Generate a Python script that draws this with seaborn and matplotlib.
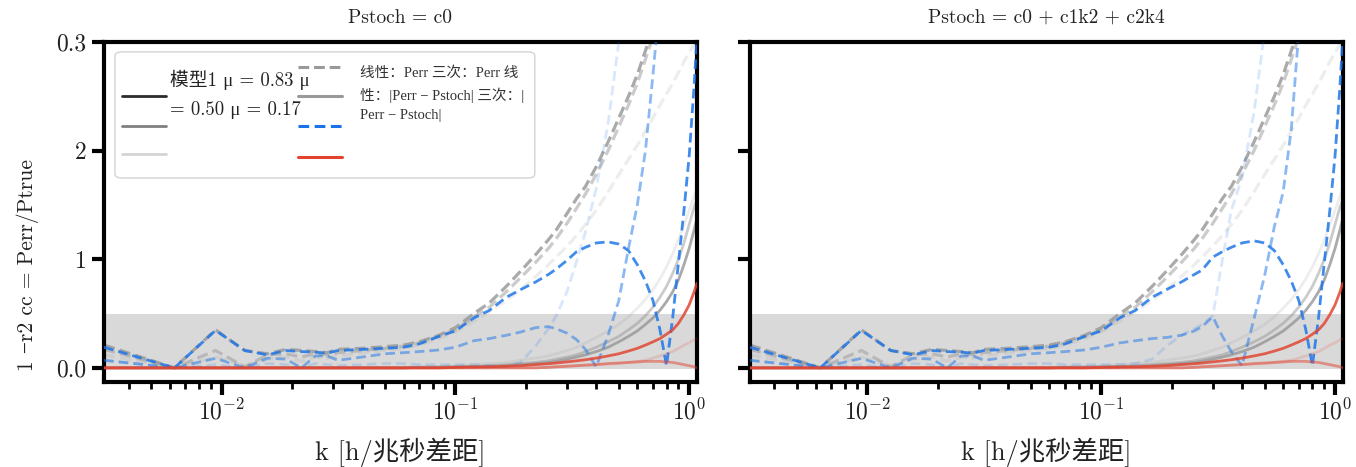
import matplotlib
matplotlib.use("Agg")
import matplotlib.pyplot as plt
import seaborn as sns
from matplotlib.lines import Line2D
from matplotlib.patches import FancyBboxPatch
from matplotlib.ticker import FixedLocator, FixedFormatter, LogLocator, NullFormatter

# wavenumber grid [h/Mpc]
k = [0.00314, 0.00628, 0.00942, 0.01257, 0.01571, 0.01885, 0.02199, 0.02513, 0.02827, 0.03142,
     0.04, 0.05, 0.06, 0.07, 0.085, 0.10, 0.12, 0.14, 0.165, 0.19,
     0.22, 0.25, 0.27, 0.30, 0.33, 0.36, 0.40, 0.45, 0.50, 0.55,
     0.60, 0.65, 0.70, 0.75, 0.80, 0.85, 0.90, 0.95, 1.00, 1.05, 1.08]

mu_values = [0.83, 0.50, 0.17]

# linear bias: Perr / Ptrue
lin_perr_1 = [0.21, 0.00, 0.35, 0.16, 0.13, 0.17, 0.16, 0.15, 0.14, 0.17, 0.18, 0.195, 0.21, 0.24, 0.30,
              0.37, 0.50, 0.60, 0.75, 0.89, 1.04, 1.18, 1.27, 1.42, 1.56, 1.67, 1.85, 2.08, 2.30, 2.50,
              2.70, 2.92, 3.12, 3.30, 3.50, 3.70, 3.90, 4.10, 4.30, 4.50, 4.60]
lin_perr_2 = [0.17, 0.00, 0.16, 0.01, 0.12, 0.13, 0.10, 0.13, 0.12, 0.14, 0.16, 0.18, 0.20, 0.23, 0.29,
              0.35, 0.47, 0.56, 0.70, 0.83, 0.97, 1.10, 1.19, 1.33, 1.47, 1.60, 1.78, 2.00, 2.22, 2.42,
              2.62, 2.84, 3.05, 3.25, 3.45, 3.65, 3.85, 4.05, 4.25, 4.45, 4.55]
lin_perr_3 = [0.12, 0.00, 0.10, 0.02, 0.08, 0.10, 0.06, 0.10, 0.09, 0.11, 0.14, 0.16, 0.18, 0.21, 0.27,
              0.33, 0.43, 0.52, 0.62, 0.72, 0.84, 0.95, 1.02, 1.12, 1.22, 1.32, 1.45, 1.62, 1.78, 1.92,
              2.05, 2.18, 2.30, 2.42, 2.52, 2.62, 2.72, 2.82, 2.90, 2.98, 3.02]

# cubic bias: Perr / Ptrue
cub_perr_1 = [0.00, 0.00, 0.00, 0.00, 0.00, 0.00, 0.00, 0.00, 0.00, 0.00, 0.00, 0.00, 0.00, 0.005, 0.005,
              0.008, 0.01, 0.015, 0.02, 0.03, 0.04, 0.05, 0.06, 0.08, 0.10, 0.12, 0.15, 0.19, 0.24, 0.29,
              0.34, 0.40, 0.46, 0.53, 0.61, 0.70, 0.81, 0.95, 1.10, 1.27, 1.38]
cub_perr_2 = [0.00, 0.00, 0.00, 0.00, 0.00, 0.00, 0.00, 0.00, 0.00, 0.00, 0.00, 0.00, 0.00, 0.005, 0.008,
              0.01, 0.015, 0.02, 0.03, 0.04, 0.05, 0.065, 0.08, 0.10, 0.12, 0.15, 0.19, 0.24, 0.29, 0.35,
              0.41, 0.48, 0.56, 0.65, 0.75, 0.87, 1.00, 1.15, 1.32, 1.48, 1.55]
cub_perr_3 = [0.00, 0.00, 0.00, 0.00, 0.00, 0.00, 0.00, 0.00, 0.00, 0.00, 0.00, 0.00, 0.005, 0.01, 0.015,
              0.02, 0.03, 0.04, 0.05, 0.07, 0.09, 0.11, 0.13, 0.16, 0.19, 0.23, 0.28, 0.34, 0.40, 0.47,
              0.55, 0.63, 0.72, 0.82, 0.93, 1.05, 1.18, 1.32, 1.45, 1.58, 1.65]

# linear bias: |Perr - Pstoch| / Ptrue, Pstoch = c0
lin_diff_c0_1 = [0.19, 0.00, 0.345, 0.16, 0.12, 0.16, 0.15, 0.145, 0.135, 0.16, 0.17, 0.18, 0.19, 0.22, 0.29,
                 0.34, 0.46, 0.53, 0.65, 0.72, 0.79, 0.86, 0.91, 0.99, 1.07, 1.11, 1.15, 1.16, 1.14, 1.08,
                 0.95, 0.80, 0.62, 0.35, 0.02, 0.46, 0.97, 1.45, 1.95, 2.60, 3.05]
lin_diff_c0_2 = [0.07, 0.00, 0.088, 0.00, 0.09, 0.08, 0.00, 0.11, 0.11, 0.07, 0.10, 0.13, 0.14, 0.15, 0.165,
                 0.19, 0.25, 0.27, 0.30, 0.33, 0.37, 0.38, 0.36, 0.32, 0.26, 0.17, 0.01, 0.30, 0.62, 1.10,
                 1.50, 2.00, 2.70, 3.40, 4.10, 4.80, 5.50, 6.20, 6.90, 7.60, 8.00]
lin_diff_c0_3 = [0.07, 0.00, 0.03, 0.00, 0.04, 0.03, 0.00, 0.04, 0.03, 0.02, 0.03, 0.04, 0.04, 0.03, 0.03,
                 0.03, 0.03, 0.02, 0.01, 0.05, 0.20, 0.36, 0.48, 0.70, 0.98, 1.25, 1.65, 2.25, 3.00, 3.80,
                 4.60, 5.40, 6.20, 7.00, 7.80, 8.60, 9.40, 10.2, 11.0, 11.8, 12.3]

# linear bias: |Perr - Pstoch| / Ptrue, Pstoch = c0 + c1 k^2 + c2 k^4
lin_diff_ck_1 = [0.19, 0.00, 0.345, 0.16, 0.12, 0.16, 0.15, 0.145, 0.135, 0.16, 0.17, 0.18, 0.19, 0.22, 0.29,
                 0.34, 0.46, 0.53, 0.65, 0.72, 0.79, 0.86, 0.90, 1.02, 1.07, 1.11, 1.15, 1.17, 1.15, 1.08,
                 0.95, 0.80, 0.62, 0.35, 0.02, 0.46, 0.97, 1.45, 1.95, 2.60, 3.05]
lin_diff_ck_2 = [0.07, 0.00, 0.088, 0.00, 0.09, 0.08, 0.00, 0.11, 0.11, 0.07, 0.10, 0.13, 0.14, 0.15, 0.165,
                 0.19, 0.23, 0.25, 0.27, 0.28, 0.30, 0.34, 0.38, 0.47, 0.29, 0.15, 0.02, 0.45, 0.85, 1.30,
                 1.62, 2.20, 3.10, 3.90, 4.70, 5.50, 6.30, 7.10, 7.90, 8.70, 9.10]
lin_diff_ck_3 = [0.07, 0.00, 0.03, 0.00, 0.04, 0.03, 0.00, 0.04, 0.03, 0.02, 0.03, 0.04, 0.04, 0.03, 0.03,
                 0.03, 0.03, 0.04, 0.08, 0.20, 0.30, 0.36, 0.40, 0.48, 1.00, 1.45, 1.75, 2.35, 3.10, 3.90,
                 4.70, 5.50, 6.30, 7.10, 7.90, 8.70, 9.50, 10.3, 11.1, 11.9, 12.4]

# cubic bias: |Perr - Pstoch| / Ptrue
cub_diff_1 = [0.00, 0.00, 0.00, 0.00, 0.00, 0.00, 0.00, 0.00, 0.00, 0.00, 0.00, 0.00, 0.00, 0.00, 0.00,
              0.005, 0.008, 0.01, 0.015, 0.02, 0.03, 0.038, 0.045, 0.055, 0.065, 0.075, 0.09, 0.11, 0.13, 0.155,
              0.18, 0.21, 0.24, 0.27, 0.31, 0.35, 0.41, 0.49, 0.58, 0.70, 0.78]
cub_diff_2 = [0.00, 0.00, 0.00, 0.00, 0.00, 0.00, 0.00, 0.00, 0.00, 0.00, 0.00, 0.00, 0.00, 0.00, 0.00,
              0.00, 0.00, 0.00, 0.00, 0.00, 0.00, 0.005, 0.01, 0.015, 0.02, 0.025, 0.03, 0.04, 0.045, 0.05,
              0.055, 0.06, 0.06, 0.06, 0.055, 0.05, 0.04, 0.03, 0.02, 0.01, 0.00]
cub_diff_3 = [0.00, 0.00, 0.00, 0.00, 0.00, 0.00, 0.00, 0.00, 0.00, 0.00, 0.00, 0.00, 0.00, 0.00, 0.00,
              0.00, 0.00, 0.00, 0.00, 0.00, 0.00, 0.005, 0.01, 0.015, 0.02, 0.025, 0.03, 0.035, 0.04, 0.05,
              0.06, 0.07, 0.09, 0.11, 0.13, 0.15, 0.18, 0.21, 0.23, 0.26, 0.27]

panel_titles = ["Pstoch = c0", "Pstoch = c0 + c1k2 + c2k4"]
ytick_values = [0, 1, 2, 3]
ytick_labels = ["0.0", "1", "2", "0.3"]
xlabel = "k [h/兆秒差距]"
ylabel = "1 −r2 cc = Perr/Ptrue"
model_label = "模型1 μ = 0.83 μ\n= 0.50 μ = 0.17"
style_label = "线性：Perr 三次：Perr 线\n性：|Perr − Pstoch| 三次：|\nPerr − Pstoch|"

GRAY = "#999999"
BLUE = "#1a74e8"
RED = "#e2432f"

sns.set_theme(style="ticks")
plt.rcParams["font.family"] = ["cmr10", "Liberation Serif", "Noto Sans CJK SC"]
plt.rcParams["mathtext.fontset"] = "cm"
plt.rcParams["axes.formatter.use_mathtext"] = True
plt.rcParams["axes.unicode_minus"] = True

fig = plt.figure(figsize=(13.56, 4.67), dpi=100)
ax_left = fig.add_axes([0.0767, 0.182, 0.4373, 0.728])
ax_right = fig.add_axes([0.553, 0.182, 0.4373, 0.728])

panels = [
    (ax_left, panel_titles[0], [lin_diff_c0_1, lin_diff_c0_2, lin_diff_c0_3]),
    (ax_right, panel_titles[1], [lin_diff_ck_1, lin_diff_ck_2, lin_diff_ck_3]),
]
lin_perr = [lin_perr_1, lin_perr_2, lin_perr_3]
cub_perr = [cub_perr_1, cub_perr_2, cub_perr_3]
cub_diff = [cub_diff_1, cub_diff_2, cub_diff_3]

for ax, title, lin_diff in panels:
    ax.axhspan(-0.01, 0.5, color="#d9d9d9", lw=0, zorder=0)
    for series, mu in zip(lin_perr[::-1], mu_values[::-1]):
        sns.lineplot(x=k, y=series, ax=ax, color=GRAY, alpha=mu, lw=2.3,
                     linestyle=(0, (3.5, 1.6)), legend=False, zorder=2)
    for series, mu in zip(cub_perr[::-1], mu_values[::-1]):
        sns.lineplot(x=k, y=series, ax=ax, color=GRAY, alpha=mu, lw=2.0,
                     linestyle="-", legend=False, zorder=2)
    for series, mu in zip(lin_diff[::-1], mu_values[::-1]):
        sns.lineplot(x=k, y=series, ax=ax, color=BLUE, alpha=mu, lw=2.0,
                     linestyle=(0, (3.5, 1.8)), legend=False, zorder=3)
    for series, mu in zip(cub_diff[::-1], mu_values[::-1]):
        sns.lineplot(x=k, y=series, ax=ax, color=RED, alpha=mu, lw=2.0,
                     linestyle="-", legend=False, zorder=4)

    ax.set_xscale("log")
    ax.set_xlim(0.00314, 1.08)
    ax.set_ylim(-0.13, 3.0)
    ax.xaxis.set_major_locator(LogLocator(base=10, numticks=10))
    ax.xaxis.set_minor_locator(LogLocator(base=10, subs=range(2, 10), numticks=20))
    ax.xaxis.set_minor_formatter(NullFormatter())
    ax.yaxis.set_major_locator(FixedLocator(ytick_values))
    ax.yaxis.set_major_formatter(FixedFormatter(ytick_labels))
    ax.tick_params(axis="both", which="major", length=9, width=3, labelsize=17,
                   color="black", labelcolor="#222222")
    ax.tick_params(axis="x", which="minor", length=5, width=2, color="black")
    for spine in ax.spines.values():
        spine.set_linewidth(3)
        spine.set_color("black")
    ax.set_title(title, fontsize=14, pad=14, color="#222222")
    ax.set_xlabel(xlabel, fontsize=19, labelpad=9, color="#222222")
    ax.grid(False)

ax_left.set_ylabel(ylabel, fontsize=15.5, color="#222222")
ax_left.yaxis.set_label_coords(-0.11, 0.345)
ax_right.tick_params(axis="y", labelleft=False)

# legend box: model shades on the left, line styles on the right
frame = FancyBboxPatch((0.0185, 0.60), 0.708, 0.371, boxstyle="round,pad=0,rounding_size=0.012",
                       transform=ax_left.transAxes, facecolor="white", edgecolor="#cccccc",
                       lw=1.0, alpha=0.85, zorder=10)
ax_left.add_patch(frame)
for y, mu in zip([0.841, 0.753, 0.671], mu_values):
    ax_left.add_line(Line2D([0.030, 0.105], [y, y], transform=ax_left.transAxes,
                           color="black", alpha=mu, lw=2, zorder=11))
style_handles = [
    (0.926, GRAY, (0, (3.5, 1.6))),
    (0.841, GRAY, "-"),
    (0.753, BLUE, (0, (3.5, 1.8))),
    (0.662, RED, "-"),
]
for y, color, ls in style_handles:
    ax_left.add_line(Line2D([0.327, 0.401], [y, y], transform=ax_left.transAxes,
                           color=color, lw=2.2, linestyle=ls, zorder=11))
ax_left.text(0.111, 0.846, model_label, transform=ax_left.transAxes, fontsize=13.5,
             va="center", ha="left", linespacing=1.75, color="#222222", zorder=12)
ax_left.text(0.432, 0.846, style_label, transform=ax_left.transAxes, fontsize=10.5,
             va="center", ha="left", linespacing=1.6, color="#333333", zorder=12,
             family=["Liberation Serif", "Noto Sans CJK SC"])

fig.savefig("out.png", dpi=100)
